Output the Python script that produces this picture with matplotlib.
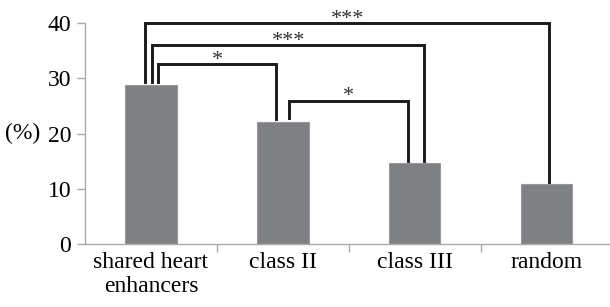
import matplotlib
matplotlib.use("Agg")
from matplotlib import pyplot as plt

# values
categories = ["shared heart\nenhancers", "class II", "class III", "random"]
percent = [28.7, 22.1, 14.6, 10.8]

# significance brackets: (left bar, right bar, bracket top, stars)
comparisons = [
    (0, 3, 40.0, "***"),
    (0, 2, 36.0, "***"),
    (0, 1, 32.5, "*"),
    (1, 2, 25.9, "*"),
]
# where each bracket leg sits relative to its bar centre
leg_offsets = [
    (-0.045, 0.02),
    (0.01, 0.07),
    (0.055, -0.05),
    (0.05, -0.05),
]

plt.rcParams['font.family'] = ['Liberation Serif', 'DejaVu Serif']
plt.rcParams['font.size'] = 17

fig = plt.figure(figsize=(6.1, 3.07), dpi=100)
ax = fig.add_axes([85 / 610, 63 / 307, 525 / 610, 221 / 307])

x = list(range(len(categories)))
ax.bar(x, percent, width=0.39, color="#7f8083", edgecolor="#98999b", linewidth=0.8, zorder=2)

for (i, j, top, stars), (oi, oj) in zip(comparisons, leg_offsets):
    xl = x[i] + oi
    xr = x[j] + oj
    yl = percent[i] + 0.7
    yr = percent[j] + 0.5
    ax.plot([xl, xl, xr, xr], [yl, top, top, yr], color="#1a1a1a", lw=2.1,
            solid_joinstyle="miter", clip_on=False, zorder=3)
    ax.text((xl + xr) / 2, top - 0.1, stars, ha="center", va="baseline",
            fontsize=16, color="#333333", clip_on=False)

ax.set_xlim(-0.5, 3.48)
ax.set_ylim(0, 40)
ax.set_yticks([0, 10, 20, 30, 40])
ax.set_xticks(x)
ax.set_xticklabels(categories, linespacing=1.15)
ax.tick_params(axis="x", length=0, pad=6)
ax.set_xticks([0.5, 1.5, 2.5], minor=True)
ax.tick_params(axis="x", which="minor", length=6, color="#aaaaaa", width=1)
ax.tick_params(axis="y", length=6, color="#aaaaaa", width=1, pad=4)

for s in ["top", "right"]:
    ax.spines[s].set_visible(False)
for s in ["left", "bottom"]:
    ax.spines[s].set_color("#aaaaaa")
    ax.spines[s].set_linewidth(1)

ax.set_ylabel("(%)", rotation=0, va="center", ha="center")
ax.yaxis.set_label_coords(-0.118, 0.5)

fig.savefig("out.png", dpi=100)
